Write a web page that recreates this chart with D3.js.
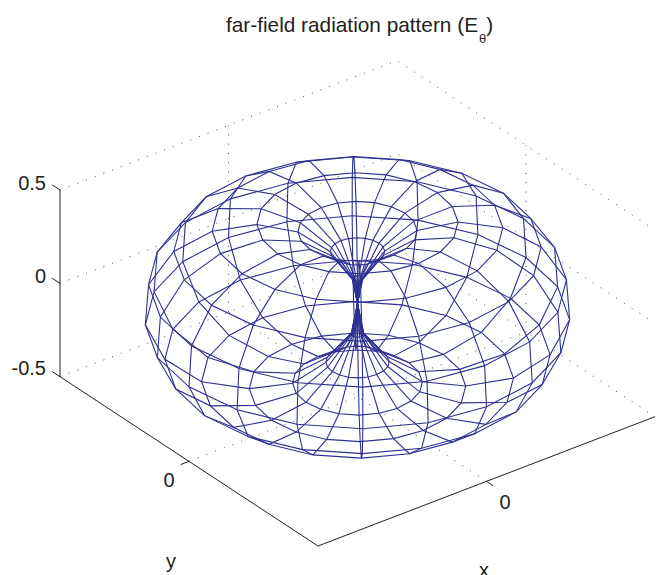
<!DOCTYPE html>
<html>
<head>
<meta charset="utf-8">
<title>far-field radiation pattern</title>
<script src="https://cdn.jsdelivr.net/npm/d3@7"></script>
<style>
body { margin: 0; background: #fff; overflow: hidden; }
text { font-family: "Liberation Sans", sans-serif; font-size: 20px; fill: #231f20; }
</style>
</head>
<body>
<div id="chart"></div>
<script>
// rings of the mesh, north pole to south pole
var ringRadius = [0, 0.025, 0.128, 0.281, 0.474, 0.685, 0.866, 0.985, 1.0, 0.908, 0.735, 0.51, 0.306, 0.149, 0.03, 0];
var ringHeight = [0, 0.133, 0.278, 0.386, 0.429, 0.396, 0.29, 0.113, -0.101, -0.287, -0.41, -0.45, -0.424, -0.314, -0.164, 0];
// meridians, degrees
var meridians = [0, 18, 36, 54, 72, 90, 108, 126, 144, 162, 180, 198, 216, 234, 252, 270, 288, 306, 324, 342];
var zTicks = [-0.5, 0, 0.5];
var zTickLabels = ["-0.5", "0", "0.5"];

var width = 656;
var height = 575;

var svg = d3.select("#chart").append("svg")
    .attr("width", width)
    .attr("height", height)
    .style("display", "block");

// axis box as seen on the page
var xToX = d3.scaleLinear().domain([-1, 1]).range([0, 337]);
var xToY = d3.scaleLinear().domain([-1, 1]).range([0, -129.3]);
var yToX = d3.scaleLinear().domain([-1, 1]).range([0, -258]);
var yToY = d3.scaleLinear().domain([-1, 1]).range([0, -169.3]);
var zToY = d3.scaleLinear().domain([-0.5, 0.5]).range([0, -186.7]);

function project(x, y, z) {
    return [318 + xToX(x) + yToX(y), 546 + xToY(x) + yToY(y) + zToY(z)];
}

var line = d3.line();

function drawDotted(points) {
    svg.append("path")
        .attr("d", line(points))
        .attr("fill", "none")
        .attr("stroke", "#231f20")
        .attr("stroke-width", 0.8)
        .attr("stroke-dasharray", "1 8.3");
}

// grid on the back walls and the floor
zTicks.forEach(function(z) {
    drawDotted([project(-1, 1, z), project(1, 1, z), project(1, -1, z)]);
});
drawDotted([project(0, 1, -0.5), project(0, 1, 0.5)]);
drawDotted([project(1, 0, -0.5), project(1, 0, 0.5)]);
drawDotted([project(0, -1, -0.5), project(0, 1, -0.5)]);
drawDotted([project(-1, 0, -0.5), project(1, 0, -0.5)]);

// axes
function drawAxis(points) {
    svg.append("path")
        .attr("d", line(points))
        .attr("fill", "none")
        .attr("stroke", "#231f20")
        .attr("stroke-width", 1);
}

drawAxis([project(-1, 1, -0.5), project(-1, -1, -0.5), project(1, -1, -0.5)]);
drawAxis([project(-1, 1, -0.5), project(-1, 1, 0.5)]);
drawAxis([project(0, -1, -0.5), project(0, -1.05, -0.5)]);
drawAxis([project(-1, 0, -0.5), project(-1.05, 0, -0.5)]);
zTicks.forEach(function(z) {
    drawAxis([project(-1, 1, z), project(-1, 1.06, z)]);
});

// the mesh
function meshPoint(i, phi) {
    var a = phi * Math.PI / 180;
    return project(ringRadius[i] * Math.cos(a), ringRadius[i] * Math.sin(a), ringHeight[i]);
}

var mesh = svg.append("g")
    .attr("fill", "none")
    .attr("stroke", "#2e3192")
    .attr("stroke-width", 1.1);

meridians.forEach(function(phi) {
    mesh.append("path").attr("d", line(ringRadius.map(function(r, i) {
        return meshPoint(i, phi);
    })));
});

ringRadius.forEach(function(r, i) {
    if (r === 0) return;
    mesh.append("path").attr("d", line(meridians.map(function(phi) {
        return meshPoint(i, phi);
    })) + "Z");
});

// labels
zTicks.forEach(function(z, i) {
    svg.append("text")
        .attr("x", 46)
        .attr("y", project(-1, 1, z)[1] - (z < 0 ? 2 : 0))
        .attr("text-anchor", "end")
        .text(zTickLabels[i]);
});

svg.append("text").attr("x", 169).attr("y", 487).attr("text-anchor", "middle").text("0");
svg.append("text").attr("x", 505).attr("y", 509).attr("text-anchor", "middle").text("0");
svg.append("text").attr("x", 171).attr("y", 568).attr("text-anchor", "middle").text("y");
svg.append("text").attr("x", 484).attr("y", 577).attr("text-anchor", "middle").text("x");

var title = svg.append("text").attr("x", 226).attr("y", 32).style("font-size", "20.8px");
title.append("tspan").text("far-field radiation pattern (E");
title.append("tspan").attr("dx", 1).attr("dy", 11).style("font-size", "13px").text("θ");
title.append("tspan").attr("dy", -11).text(")");
</script>
</body>
</html>
